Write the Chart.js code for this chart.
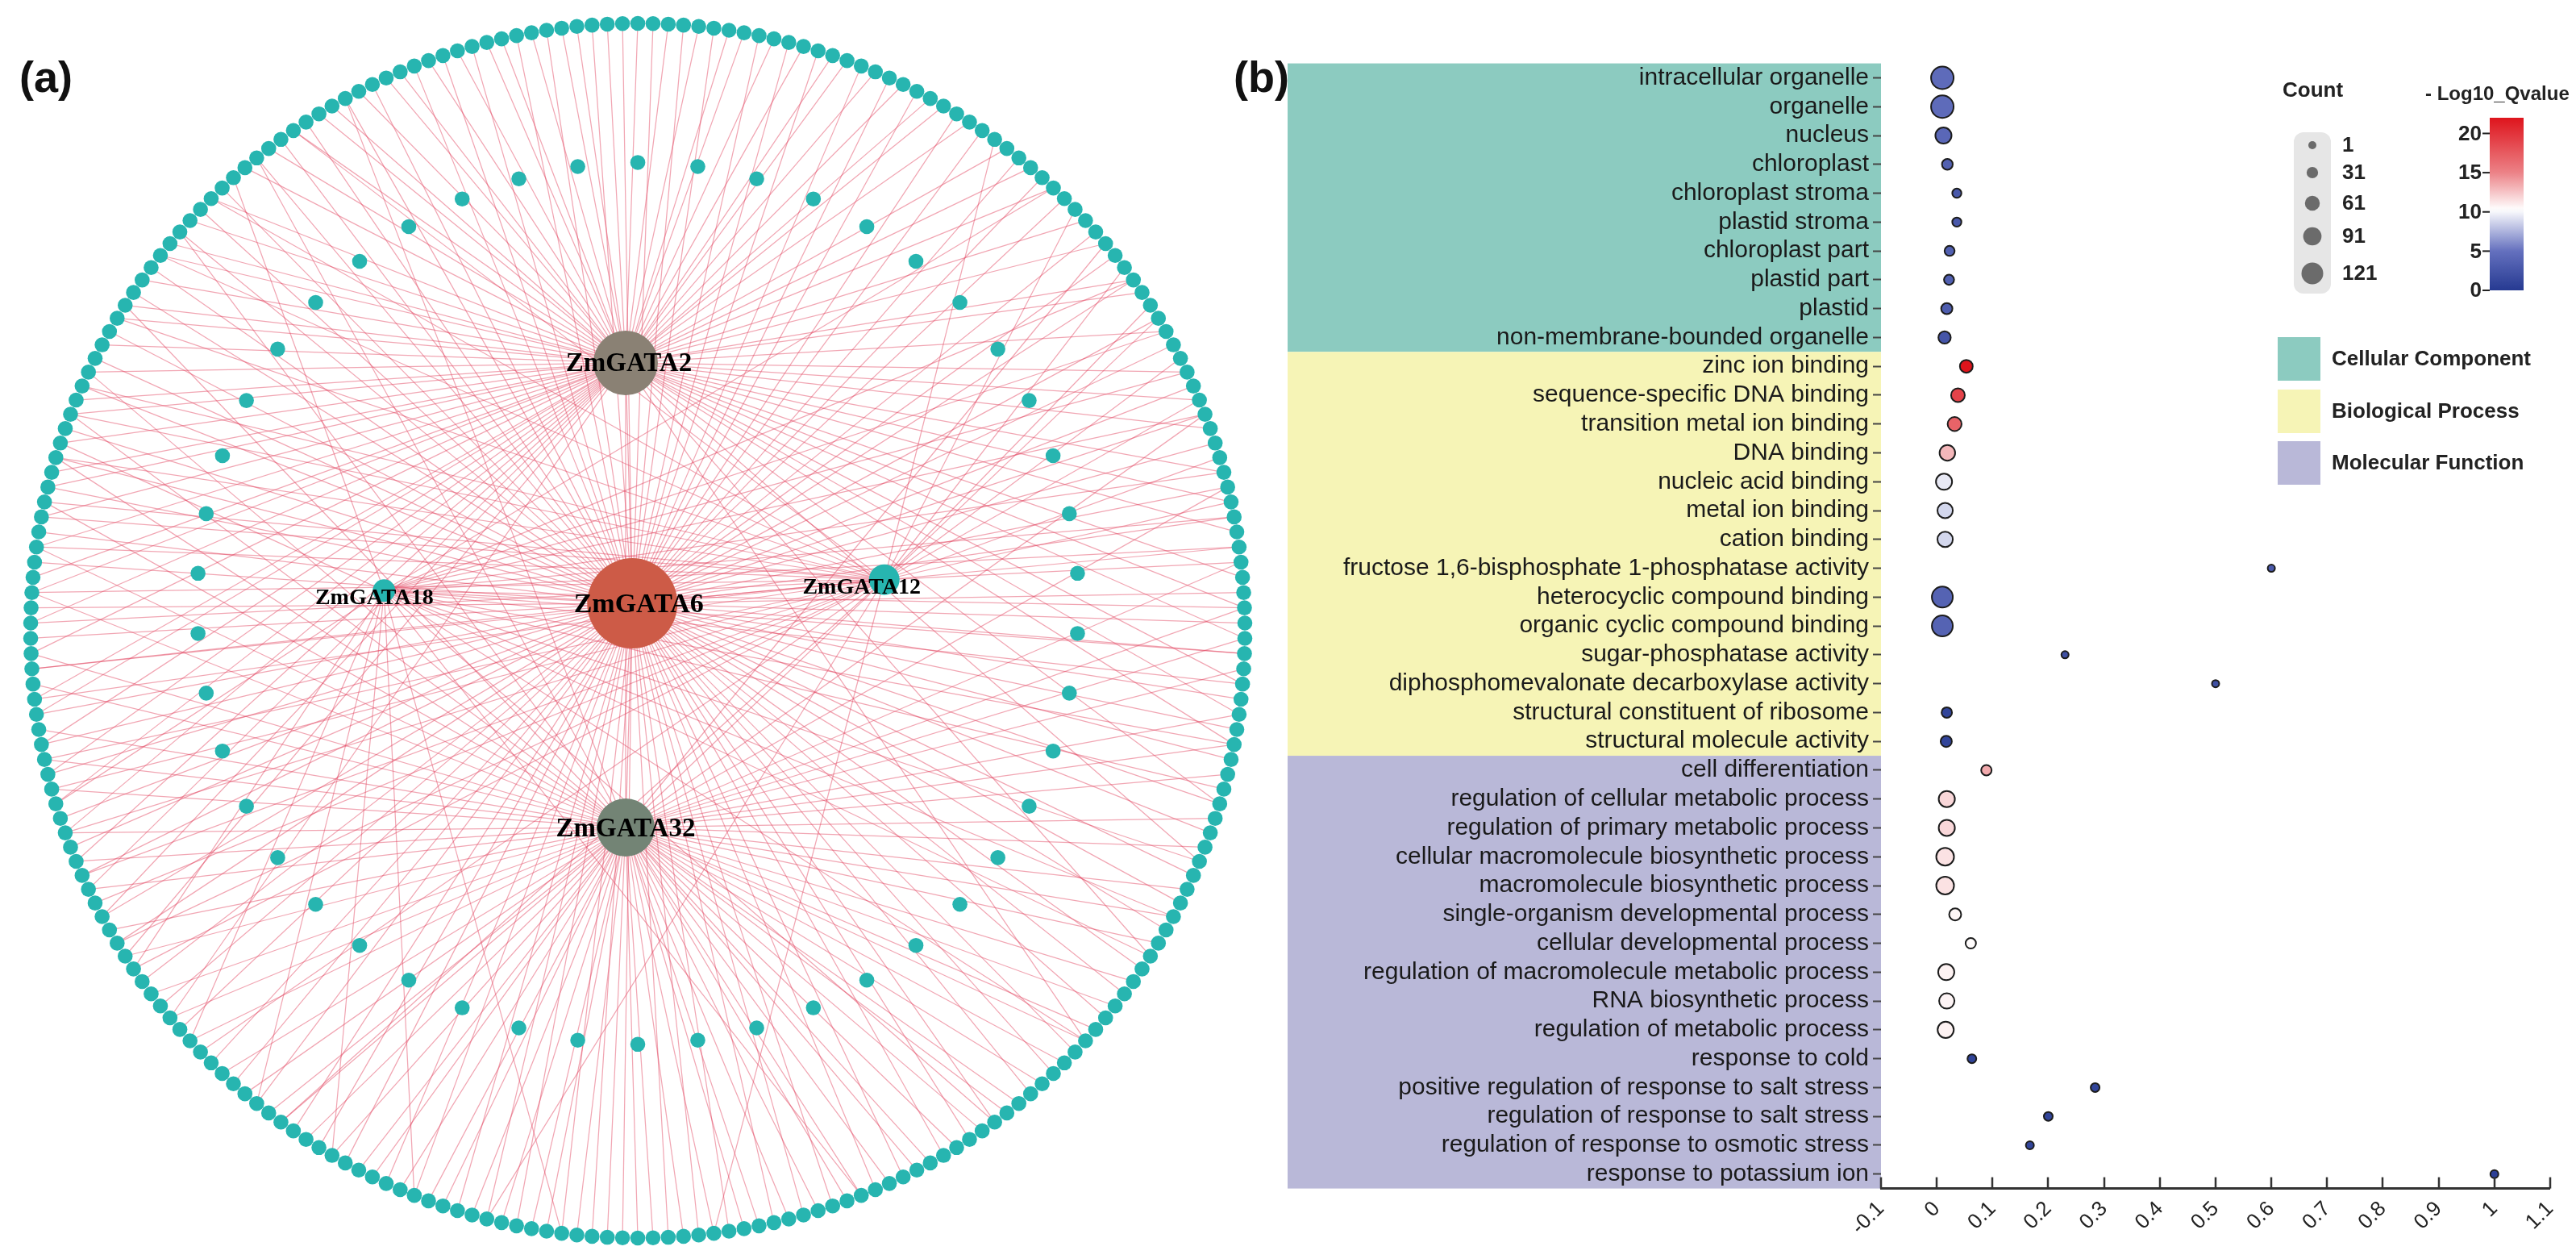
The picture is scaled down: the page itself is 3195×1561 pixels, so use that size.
<!DOCTYPE html>
<html>
<head>
<meta charset="utf-8">
<script src="https://cdn.jsdelivr.net/npm/chart.js@4.4.1/dist/chart.umd.min.js"></script>
<style>
  html, body { margin: 0; padding: 0; background: #fff; }
  body { width: 3195px; height: 1561px; position: relative; overflow: hidden; }
  #netWrap { position: absolute; left: 0; top: 0; width: 1560px; height: 1561px; }
  #goWrap { position: absolute; left: 1560px; top: 0; width: 1635px; height: 1561px; }
  .tag { position: absolute; font: bold 54px "Liberation Sans", Arial, sans-serif; line-height: 54px; color: #111; z-index: 5; }
</style>
</head>
<body>
<div class="tag" style="left:24px;top:68px">(a)</div>
<div class="tag" style="left:1530px;top:68px">(b)</div>
<div id="netWrap"><canvas id="netChart"></canvas></div>
<div id="goWrap"><canvas id="goChart"></canvas></div>

<script>
// ---------- (a) co-expression network ----------
const outerCount = 250;   // target genes on the outer ring
const innerCount = 46;    // genes on the inner ring
const hubNames = ["ZmGATA2", "ZmGATA6", "ZmGATA32", "ZmGATA18", "ZmGATA12"];
// outer-ring node index (0 = top, clockwise) linked to each hub
const targets2 = [0,2,4,6,7,9,11,13,14,16,18,20,21,23,26,28,30,33,35,38,39,42,45,47,49,52,54,56,59,61,63,66,68,70,74,78,85,92,160,165,168,170,172,174,176,178,180,182,183,186,188,190,191,193,195,197,198,200,202,203,205,207,209,210,212,214,215,217,219,222,224,226,228,229,231,233,234,236,238,240,241,243,245,246,248];
const targets6 = [1,3,5,8,10,12,15,17,19,22,24,27,29,31,34,36,38,41,43,46,48,50,53,55,57,60,62,64,67,69,71,74,76,79,81,83,86,88,90,93,95,97,100,102,104,107,109,112,114,116,119,121,123,126,128,130,133,135,137,140,142,145,147,149,152,154,156,159,161,163,166,168,171,173,175,178,180,182,185,187,189,192,194,197,199,201,204,206,208,211,213,216,218,220,223,225,227,230,232,235,237,239,242,244,247,249];
const targets32 = [35,41,48,53,58,61,63,65,68,70,72,75,77,80,82,84,87,89,91,92,94,96,98,99,101,103,105,106,108,110,111,113,115,117,118,120,122,124,125,127,129,131,132,134,136,138,139,141,143,144,146,148,150,151,153,155,158,160,162,165,167,170,172,174,177,179,181,184,186,190,193,196,199,202,205,210,216,223,230];
const targets18 = [30,38,42,45,48,52,55,57,61,64,66,70,73,78,82,85,92,100,110,130,140,146,152,158,164,176,200,221];
const targets12 = [25,32,37,40,44,47,51,54,58,120,135,150,157,164,166,169,171,174,177,179,183,185,188,190,193,195,196,199,202,204,209,214,219,226];
const hubLinks = [["ZmGATA2","ZmGATA6"],["ZmGATA6","ZmGATA32"],["ZmGATA2","ZmGATA32"],["ZmGATA6","ZmGATA18"],["ZmGATA6","ZmGATA12"]];

// layout in units of the outer ring radius
const layout = {
  innerCenter: [0, 0.045], innerRadius: 0.726,
  hubPos: { ZmGATA2: [-0.02, 0.441], ZmGATA6: [-0.009, 0.045], ZmGATA32: [-0.02, -0.324], ZmGATA18: [-0.418, 0.066], ZmGATA12: [0.406, 0.084] },
  hubRadius: { ZmGATA2: 40, ZmGATA6: 56, ZmGATA32: 36, ZmGATA18: 14, ZmGATA12: 19 },
  hubColor: { ZmGATA2: "#8a8174", ZmGATA6: "#cd5b47", ZmGATA32: "#738475", ZmGATA18: "#27b5b0", ZmGATA12: "#27b5b0" },
  hubFont: { ZmGATA2: 33, ZmGATA6: 34, ZmGATA32: 33, ZmGATA18: 28, ZmGATA12: 28 },
  labelShift: { ZmGATA2: [4, 2], ZmGATA6: [8, 2], ZmGATA32: [0, 2], ZmGATA18: [-12, 9], ZmGATA12: [-28, 10] }
};

function ringPoint(i, n, r, cx, cy) {
  const a = Math.PI / 2 - i * 2 * Math.PI / n;
  return { x: cx + r * Math.cos(a), y: cy + r * Math.sin(a) };
}

const outerNodes = [];
for (let i = 0; i < outerCount; i++) outerNodes.push(ringPoint(i, outerCount, 1, 0, 0));
const innerNodes = [];
for (let i = 0; i < innerCount; i++) innerNodes.push(ringPoint(i, innerCount, layout.innerRadius, layout.innerCenter[0], layout.innerCenter[1]));

function hubPoint(name) { return { x: layout.hubPos[name][0], y: layout.hubPos[name][1] }; }

function edgeData(hub, list) {
  const out = [];
  const h = hubPoint(hub);
  list.forEach(i => { out.push(h, outerNodes[i], { x: null, y: null }); });
  return out;
}

const edgeStyle = { showLine: true, spanGaps: false, pointRadius: 0, borderColor: "rgba(226,70,96,0.48)", borderWidth: 1.25, order: 5 };
const edgeSets = [
  ["ZmGATA2", targets2], ["ZmGATA6", targets6], ["ZmGATA32", targets32], ["ZmGATA18", targets18], ["ZmGATA12", targets12]
].map(([h, l]) => Object.assign({ data: edgeData(h, l) }, edgeStyle));

const linkData = [];
hubLinks.forEach(([a, b]) => { linkData.push(hubPoint(a), hubPoint(b), { x: null, y: null }); });

const hubLabels = {
  id: "hubLabels",
  afterDatasetsDraw(chart) {
    const ctx = chart.ctx;
    const meta = chart.getDatasetMeta(chart.data.datasets.length - 1);
    ctx.save();
    ctx.fillStyle = "#000";
    ctx.textAlign = "center";
    ctx.textBaseline = "middle";
    meta.data.forEach((pt, i) => {
      const name = hubNames[i];
      const s = layout.labelShift[name];
      ctx.font = "bold " + layout.hubFont[name] + "px 'Liberation Serif', 'Times New Roman', serif";
      ctx.fillText(name, pt.x + s[0], pt.y + s[1]);
    });
    ctx.restore();
  }
};

new Chart("netChart", {
  type: "scatter",
  data: {
    datasets: edgeSets.concat([
      Object.assign({ data: linkData }, edgeStyle),
      { data: innerNodes, pointRadius: 9.3, pointBackgroundColor: "#27b5b0", pointBorderWidth: 0, order: 2 },
      { data: outerNodes, pointRadius: 9.3, pointBackgroundColor: "#27b5b0", pointBorderWidth: 0, order: 2 },
      { data: hubNames.map(hubPoint),
        pointRadius: hubNames.map(n => layout.hubRadius[n]),
        pointBackgroundColor: hubNames.map(n => layout.hubColor[n]),
        pointBorderWidth: 0, order: 1 }
    ])
  },
  options: {
    responsive: true, maintainAspectRatio: false, animation: false, devicePixelRatio: 1,
    layout: { padding: 0, autoPadding: false },
    plugins: { legend: { display: false }, tooltip: { enabled: false } },
    scales: {
      x: { type: "linear", display: false, min: -1.0505, max: 1.0212 },
      y: { type: "linear", display: false, min: -1.0345, max: 1.0385 }
    }
  },
  plugins: [hubLabels]
});

// ---------- (b) GO enrichment bubble chart ----------
const goTerms = [
  "intracellular organelle", "organelle", "nucleus", "chloroplast", "chloroplast stroma",
  "plastid stroma", "chloroplast part", "plastid part", "plastid", "non-membrane-bounded organelle",
  "zinc ion binding", "sequence-specific DNA binding", "transition metal ion binding", "DNA binding",
  "nucleic acid binding", "metal ion binding", "cation binding", "fructose 1,6-bisphosphate 1-phosphatase activity",
  "heterocyclic compound binding", "organic cyclic compound binding", "sugar-phosphatase activity",
  "diphosphomevalonate decarboxylase activity", "structural constituent of ribosome", "structural molecule activity",
  "cell differentiation", "regulation of cellular metabolic process", "regulation of primary metabolic process",
  "cellular macromolecule biosynthetic process", "macromolecule biosynthetic process",
  "single-organism developmental process", "cellular developmental process",
  "regulation of macromolecule metabolic process", "RNA biosynthetic process", "regulation of metabolic process",
  "response to cold", "positive regulation of response to salt stress", "regulation of response to salt stress",
  "regulation of response to osmotic stress", "response to potassium ion"
];
const CC = "Cellular Component", BP = "Biological Process", MF = "Molecular Function";
const goClass = [CC,CC,CC,CC,CC,CC,CC,CC,CC,CC, BP,BP,BP,BP,BP,BP,BP,BP,BP,BP,BP,BP,BP,BP, MF,MF,MF,MF,MF,MF,MF,MF,MF,MF,MF,MF,MF,MF,MF];
const richFactor = [0.01,0.01,0.012,0.019,0.036,0.036,0.023,0.022,0.018,0.014,
  0.053,0.038,0.032,0.019,0.013,0.015,0.015,0.6,0.01,0.01,0.23,0.5,0.018,0.017,
  0.089,0.018,0.018,0.015,0.015,0.033,0.061,0.017,0.018,0.016,0.063,0.284,0.2,0.167,1.0];
const geneCount = [142,142,86,39,25,25,33,33,43,53,
  57,65,67,81,86,79,79,8,128,128,8,8,36,43,
  36,86,86,100,100,50,36,86,79,86,22,22,22,15,15];
const qScore = [4.5,4.5,4.2,3.6,2.8,2.8,3.5,3.5,3.2,2.5,
  22,19,17,13,9.5,8.8,8.8,3,3.8,3.8,2,2,1,1,
  13.5,11.8,11.8,11.4,11.4,10.6,10.4,10.8,10.7,10.8,0.8,1,1,1,0.5];
const xTicks = { min: -0.1, max: 1.1, step: 0.1 };
const countLegend = [1, 31, 61, 91, 121];
const qLegend = [0, 5, 10, 15, 20];
const qMax = 22;

const classColor = { "Cellular Component": "#8ccbc0", "Biological Process": "#f6f4b6", "Molecular Function": "#b9b8d8" };
const qStops = [[0, [38, 58, 145]], [5, [100, 112, 190]], [10.3, [255, 255, 255]], [15, [236, 130, 135]], [22, [222, 20, 28]]];

function qColor(v) {
  for (let i = 1; i < qStops.length; i++) {
    if (v <= qStops[i][0] || i === qStops.length - 1) {
      const [a, ca] = qStops[i - 1], [b, cb] = qStops[i];
      const t = Math.max(0, Math.min(1, (v - a) / (b - a)));
      const c = ca.map((x, k) => Math.round(x + (cb[k] - x) * t));
      return "rgb(" + c.join(",") + ")";
    }
  }
}
function sizeFor(count) { return 4.93 + 0.0708 * count; }

const bands = {
  id: "bands",
  beforeDraw(chart) {
    const ctx = chart.ctx, y = chart.scales.y, ca = chart.chartArea;
    const step = (ca.bottom - ca.top) / goTerms.length;
    let start = 0;
    ctx.save();
    for (let i = 1; i <= goTerms.length; i++) {
      if (i === goTerms.length || goClass[i] !== goClass[start]) {
        const top = y.getPixelForValue(start) - step / 2;
        const bottom = y.getPixelForValue(i - 1) + step / 2;
        ctx.fillStyle = classColor[goClass[start]];
        ctx.fillRect(y.left, top, ca.left - y.left, bottom - top);
        start = i;
      }
    }
    ctx.restore();
  }
};

const innerTicks = {
  id: "innerTicks",
  afterDraw(chart) {
    const ctx = chart.ctx, x = chart.scales.x, ca = chart.chartArea;
    ctx.save();
    ctx.strokeStyle = "#333";
    ctx.lineWidth = 2.5;
    x.ticks.forEach(t => {
      const px = Math.round(x.getPixelForValue(t.value));
      ctx.beginPath();
      ctx.moveTo(px, ca.bottom);
      ctx.lineTo(px, ca.bottom - 14);
      ctx.stroke();
    });
    ctx.restore();
  }
};

const legends = {
  id: "legends",
  afterDraw(chart) {
    const ctx = chart.ctx;
    const font = "bold 26px 'Liberation Sans', Arial, sans-serif";
    ctx.save();
    ctx.fillStyle = "#222";
    ctx.font = font;
    ctx.textBaseline = "middle";
    ctx.textAlign = "left";
    // size legend
    ctx.fillText("Count", 1271, 113);
    ctx.fillStyle = "#e6e6e6";
    ctx.beginPath();
    ctx.roundRect(1285, 164, 46, 200, 12);
    ctx.fill();
    const dotY = [180, 214, 252, 293, 339];
    countLegend.forEach((c, i) => {
      ctx.fillStyle = "#6b6b6b";
      ctx.beginPath();
      ctx.arc(1308, dotY[i], sizeFor(c), 0, Math.PI * 2);
      ctx.fill();
      ctx.fillStyle = "#222";
      ctx.fillText(String(c), 1345, dotY[i] + 1);
    });
    // colour bar
    ctx.font = "bold 24px 'Liberation Sans', Arial, sans-serif";
    ctx.fillText("- Log10_Qvalue", 1448, 117);
    ctx.font = font;
    const barTop = 146, barBottom = 360;
    const g = ctx.createLinearGradient(0, barBottom, 0, barTop);
    for (let v = 0; v <= qMax; v += 0.5) g.addColorStop(v / qMax, qColor(v));
    ctx.fillStyle = g;
    ctx.fillRect(1528, barTop, 42, barBottom - barTop);
    ctx.textAlign = "right";
    ctx.strokeStyle = "#222";
    ctx.lineWidth = 2;
    qLegend.forEach(v => {
      const yy = barBottom - v * (barBottom - barTop) / qMax;
      ctx.fillStyle = "#222";
      ctx.fillText(String(v), 1518, yy + 1);
      ctx.beginPath();
      ctx.moveTo(1519, yy);
      ctx.lineTo(1528, yy);
      ctx.stroke();
    });
    // category legend
    ctx.textAlign = "left";
    const catTop = [418, 483, 547];
    [CC, BP, MF].forEach((name, i) => {
      ctx.fillStyle = classColor[name];
      ctx.fillRect(1265, catTop[i], 53, 54);
      ctx.fillStyle = "#222";
      ctx.fillText(name, 1332, catTop[i] + 28);
    });
    ctx.restore();
  }
};

new Chart("goChart", {
  type: "scatter",
  data: {
    datasets: [{
      data: goTerms.map((t, i) => ({ x: richFactor[i], y: t })),
      pointRadius: goTerms.map((t, i) => sizeFor(geneCount[i]) - 1),
      pointBackgroundColor: goTerms.map((t, i) => qColor(qScore[i])),
      pointBorderColor: "#1c1c1c",
      pointBorderWidth: 2
    }]
  },
  options: {
    responsive: true, maintainAspectRatio: false, animation: false, devicePixelRatio: 1,
    layout: { padding: { left: 37, top: 78.6, right: 17, bottom: 7.4 }, autoPadding: false },
    plugins: { legend: { display: false }, tooltip: { enabled: false } },
    scales: {
      x: {
        type: "linear", position: "bottom", min: xTicks.min, max: xTicks.max,
        afterFit(scale) { scale.height = 80; },
        border: { display: true, color: "#333", width: 3 },
        grid: { display: true, drawOnChartArea: false, drawTicks: false },
        ticks: {
          stepSize: xTicks.step, autoSkip: false, minRotation: 45, maxRotation: 45, padding: 10,
          color: "#222", font: { family: "'Liberation Sans', Arial, sans-serif", size: 26 },
          callback: v => String(Math.round(v * 10) / 10)
        }
      },
      y: {
        type: "category", labels: goTerms, offset: true, position: "left",
        afterFit(scale) { scale.width = 736; },
        border: { display: false },
        grid: { display: true, drawOnChartArea: false, offset: false, tickLength: 10, tickColor: "#444", tickWidth: 2 },
        ticks: { autoSkip: false, padding: 5, color: "#1a1a1a", font: { family: "'Liberation Sans', Arial, sans-serif", size: 30 } }
      }
    }
  },
  plugins: [bands, innerTicks, legends]
});
</script>
</body>
</html>
